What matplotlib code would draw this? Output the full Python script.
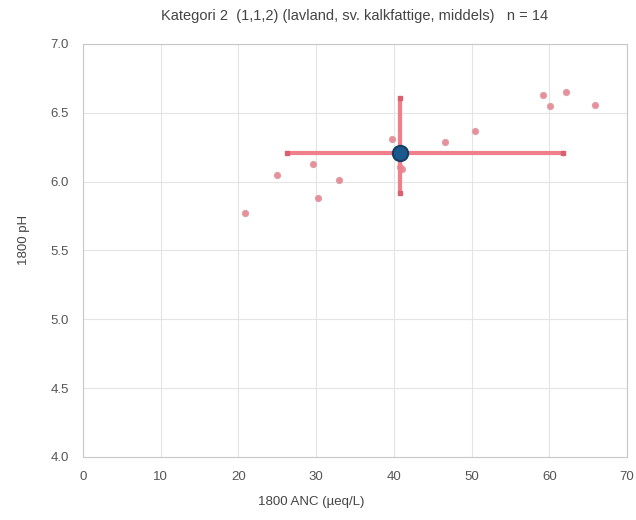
import matplotlib.pyplot as plt

# ─── data ───────────────────────────────────────────────────────────
anc = [20.8, 24.9, 29.6, 30.2, 32.9, 39.7, 40.8, 41.0, 46.6, 50.4, 59.2, 60.1, 62.2, 65.9]
ph = [5.77, 6.05, 6.13, 5.88, 6.01, 6.31, 6.11, 6.09, 6.29, 6.37, 6.63, 6.55, 6.65, 6.56]

center_anc, center_ph = 40.8, 6.21
anc_range = (26.2, 61.7)
ph_range = (5.92, 6.61)

x_ticks = [0, 10, 20, 30, 40, 50, 60, 70]
y_ticks = [4.0, 4.5, 5.0, 5.5, 6.0, 6.5, 7.0]

plt.rcParams["font.family"] = ["Liberation Sans", "DejaVu Sans"]

fig = plt.figure(figsize=(6.36, 5.2), dpi=100)
ax = fig.add_axes([0.1305, 0.1212, 0.8555, 0.7942])

ax.scatter(anc, ph, s=20, marker="o", color="#e8828f", edgecolor="#d9a0a8",
           linewidth=0.8, alpha=0.9, zorder=3)

# spread bars round the median
ax.plot(anc_range, [center_ph, center_ph], color="#f07f8c", lw=3,
        solid_capstyle="butt", zorder=4)
ax.plot([center_anc, center_anc], ph_range, color="#f07f8c", lw=3,
        solid_capstyle="butt", zorder=4)
for x in anc_range:
    ax.plot([x], [center_ph], marker="s", ms=3.5, color="#d9606e", zorder=5)
for y in ph_range:
    ax.plot([center_anc], [y], marker="s", ms=3.5, color="#d9606e", zorder=5)

ax.plot([center_anc], [center_ph], marker="o", ms=11, color="#1a5a8c",
        markeredgecolor="#173f66", markeredgewidth=1.5, zorder=6)

ax.set_xlim(0, 70)
ax.set_ylim(4.0, 7.0)
ax.set_xticks(x_ticks)
ax.set_yticks(y_ticks)
ax.set_yticklabels([f"{v:.1f}" for v in y_ticks])
ax.tick_params(length=0, labelsize=9.5, colors="#555555", pad=10)
ax.grid(True, color="#e4e4e4", lw=0.8)
ax.set_axisbelow(True)
for s in ax.spines.values():
    s.set_color("#c8c8c8")

ax.set_xlabel("1800 ANC (µeq/L)", fontsize=9.5, color="#444444")
ax.xaxis.set_label_coords(0.42, -0.095)
ax.set_ylabel("1800 pH", fontsize=9.5, color="#444444")
ax.yaxis.set_label_coords(-0.097, 0.525)
ax.set_title("Kategori 2  (1,1,2) (lavland, sv. kalkfattige, middels)   n = 14",
             fontsize=10.5, color="#444444", pad=17)

fig.savefig("out.png", dpi=100)
